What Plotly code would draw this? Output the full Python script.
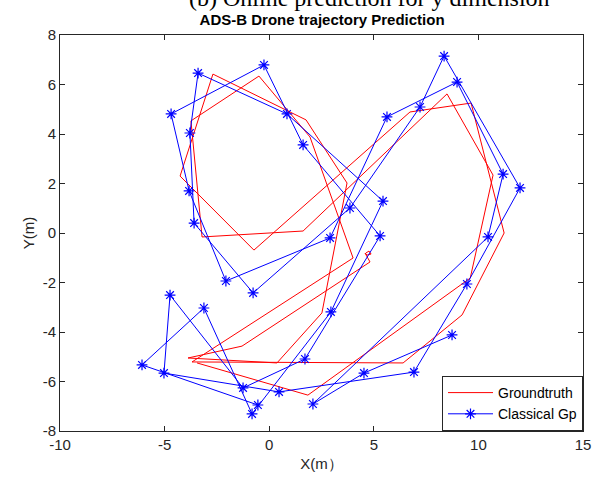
import plotly.graph_objects as go

# Groundtruth trajectory (m)
gt_x = [4.62, 4.77, 4.87, 4.68, 4.58, 4.82, -1.30, -3.88, 0.37, 2.52, 3.72, 1.76, -2.69, -4.26,
        -0.73, 6.73, 9.65, 11.23, 9.22, 6.40, -3.69, 4.01, 1.95, -0.49, -3.74, -3.21, 1.62,
        8.50, 10.70, 9.61, 1.85, -3.45]
gt_y = [-0.81, -0.73, -0.85, -0.89, -0.81, -1.17, -4.57, -5.05, -5.25, -3.23, 2.02, 4.57, 6.42, 2.30,
        -0.69, 4.89, 5.25, 0.00, -3.31, -5.25, -5.21, -1.01, 3.88, 6.34, 4.53, -0.16, 0.08,
        5.62, 2.34, -1.82, -6.55, -5.25]

# Classical GP prediction (m)
gp_x = [-0.54, -6.08, -3.12, -0.82, 2.95, 5.44, 0.85, -3.40, -3.79, -3.59, -0.77, 3.86, 7.21, 8.36,
        11.99, 9.45, 6.92, 0.47, -5.03, -4.74, -1.25, 1.71, 5.30, 1.62, -0.25, -4.69, -3.83,
        -2.07, 2.91, 5.63, 8.98, 11.18, 10.46, 2.09, 4.53, 8.74]
gp_y = [-6.95, -5.33, -3.03, -7.31, -3.19, 1.29, 4.81, 6.46, 4.04, 0.40, -2.42, 1.01, 5.09, 7.15,
        1.82, -2.06, -5.62, -6.42, -5.66, -2.51, -6.26, -5.09, -0.12, 3.56, 6.79, 4.81, 1.70,
        -1.94, -0.20, 4.69, 6.10, 2.38, -0.16, -6.91, -5.66, -4.12]

x_ticks = [-10, -5, 0, 5, 10, 15]
x_labels = ["-10", "-5", "0", "5", "10", "15"]
y_ticks = [-8, -6, -4, -2, 0, 2, 4, 6, 8]
y_labels = ["-8", "-6", "-4", "-2", "0", "2", "4", "6", "8"]

fig = go.Figure()
fig.add_trace(go.Scatter(x=gt_x, y=gt_y, mode="lines", name="Groundtruth",
                         line=dict(color="#ff0000", width=1)))
fig.add_trace(go.Scatter(x=gp_x, y=gp_y, mode="lines+markers", name="Classical Gp",
                         line=dict(color="#0000ff", width=1),
                         marker=dict(symbol="asterisk-open", size=9,
                                     line=dict(color="#0000ff", width=1.2))))

axis_common = dict(showline=True, mirror="ticks", linecolor="#262626", linewidth=1,
                   ticks="inside", ticklen=5, tickcolor="#262626", showgrid=False,
                   zeroline=False, tickfont=dict(family="Liberation Sans, Arial", size=15,
                                                 color="#262626"))

fig.update_layout(
    width=606, height=482,
    margin=dict(l=60, r=23, t=35, b=51),
    paper_bgcolor="white", plot_bgcolor="white",
    title=dict(text="<b>ADS-B Drone trajectory Prediction</b>", x=0.5315, xanchor="center",
               y=1 - 20 / 482, yanchor="middle",
               font=dict(family="Liberation Sans, Arial", size=15, color="black")),
    xaxis=dict(range=[-10, 15], tickvals=x_ticks, ticktext=x_labels, **axis_common,
               title=dict(text="X(m）", standoff=6,
                          font=dict(family="Liberation Sans, Arial", size=15, color="#262626"))),
    yaxis=dict(range=[-8, 8], tickvals=y_ticks, ticktext=y_labels, **axis_common,
               title=dict(text="Y(m)", standoff=4,
                          font=dict(family="Liberation Sans, Arial", size=15, color="#262626"))),
    legend=dict(x=1, y=0, xanchor="right", yanchor="bottom", bgcolor="white",
                bordercolor="#262626", borderwidth=1, itemwidth=45,
                font=dict(family="Liberation Sans, Arial", size=14, color="black"),
                tracegroupgap=0),
    showlegend=True,
)

fig.add_annotation(text="(b) Online prediction for y dimension", xref="paper", yref="paper",
                   x=(369 - 60) / 523, y=1 + (35 - 13) / 396, xanchor="center", yanchor="bottom",
                   showarrow=False,
                   font=dict(family="Liberation Serif, DejaVu Serif, serif", size=24, color="black"))

fig.write_html("out.html")
